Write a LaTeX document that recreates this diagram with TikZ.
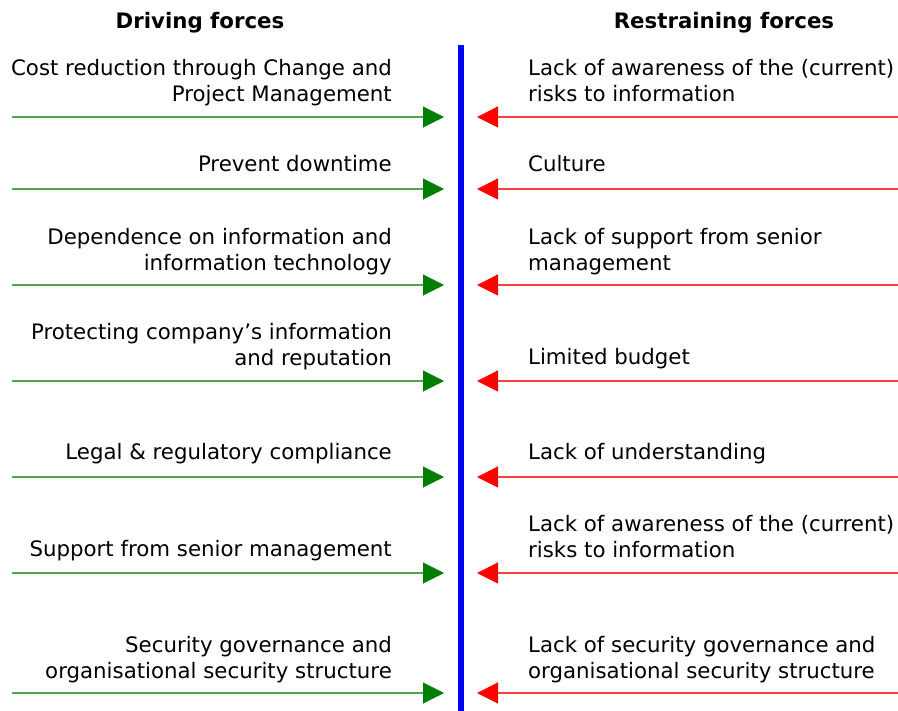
\documentclass[tikz,border=0pt]{standalone}
\usepackage{fontspec}
\setmainfont{DejaVu Sans}
\usetikzlibrary{arrows.meta}
\definecolor{drivegreen}{RGB}{0,128,0}
\definecolor{restred}{RGB}{255,0,0}
\definecolor{axisblue}{RGB}{0,0,255}
\begin{document}
\begin{tikzpicture}[x=1pt,y=-1pt,
  force/.style={line width=1.1pt,-{Triangle[length=21pt,width=21pt]}},
  drive/.style={force,draw=drivegreen!70!white,fill=drivegreen},
  restrain/.style={force,draw=restred!75!white,fill=restred},
  forcefont/.style={font=\fontsize{21.3}{26}\selectfont},
  drivetext/.style={forcefont,anchor=base east,inner sep=0pt,align=right},
  resttext/.style={forcefont,anchor=base west,inner sep=0pt,align=left},
  heading/.style={anchor=base,inner sep=0pt,font=\bfseries\fontsize{21.3}{26}\selectfont}]
\useasboundingbox (0,0) rectangle (898,711);

% headings
\node[heading] (hdrive) at (200,29) {Driving forces};
\node[heading] (hrest) at (724,29) {Restraining forces};

% central axis
\coordinate (axtop) at (461,45);
\coordinate (axbot) at (461,711);
\draw[axisblue,line width=5.5pt] (axtop) -- (axbot);

% force arrows (shaft in a lighter tint, solid head)
\foreach \i/\y in {1/117,2/189,3/285,4/381,5/477,6/573,7/693}{
  \coordinate (dl\i) at (12,\y);
  \coordinate (dr\i) at (444,\y);
  \coordinate (rl\i) at (477,\y);
  \coordinate (rr\i) at (898,\y);
  \draw[drive,-{Triangle[length=21pt,width=21pt,color=drivegreen]}] (dl\i) -- (dr\i);
  \draw[restrain,-{Triangle[length=21pt,width=21pt,color=restred]}] (rr\i) -- (rl\i);
}

% driving forces (base = last line)
\node[drivetext] (d1) at (392,102) {Cost reduction through Change and\\Project Management};
\node[drivetext] (d2) at (392,172) {Prevent downtime};
\node[drivetext] (d3) at (392,271) {Dependence on information and\\information technology};
\node[drivetext] (d4) at (392,366) {Protecting company’s information\\and reputation};
\node[drivetext] (d5) at (392,460) {Legal \& regulatory compliance};
\node[drivetext] (d6) at (392,556) {Support from senior management};
\node[drivetext] (d7) at (392,678) {Security governance and\\organisational security structure};

% restraining forces (base = last line)
\node[resttext] (r1) at (528,102) {Lack of awareness of the (current)\\risks to information};
\node[resttext] (r2) at (528,172) {Culture};
\node[resttext] (r3) at (528,271) {Lack of support from senior\\management};
\node[resttext] (r4) at (528,365) {Limited budget};
\node[resttext] (r5) at (528,460) {Lack of understanding};
\node[resttext] (r6) at (528,558) {Lack of awareness of the (current)\\risks to information};
\node[resttext] (r7) at (528,678) {Lack of security governance and\\organisational security structure};
\end{tikzpicture}
\end{document}
